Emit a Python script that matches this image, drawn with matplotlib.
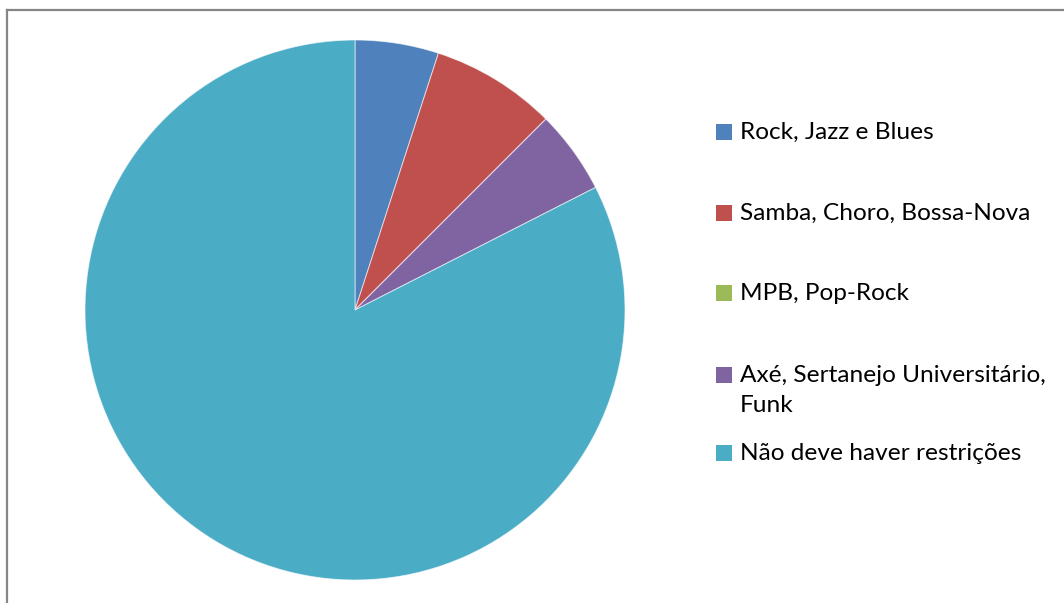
import matplotlib
matplotlib.use("Agg")
import matplotlib.pyplot as plt
from matplotlib.patches import Rectangle
from matplotlib.lines import Line2D

# Survey answers per music style
labels = [
    "Rock, Jazz e Blues",
    "Samba, Choro, Bossa-Nova",
    "MPB, Pop-Rock",
    "Axé, Sertanejo Universitário,\nFunk",
    "Não deve haver restrições",
]
answers = [2, 3, 0, 2, 33]
colors = ["#4F81BD", "#C0504D", "#9BBB59", "#8064A2", "#4BACC6"]

plt.rcParams["font.family"] = ["Lato", "DejaVu Sans"]

W, H = 1064, 603
fig = plt.figure(figsize=(W / 100, H / 100), dpi=100)

# pie centred at (355, 310) px with a 270 px radius
cx, cy, r = 355 / W, 1 - 310 / H, 270
ax = fig.add_axes([cx - r / W, cy - r / H, 2 * r / W, 2 * r / H])
wedges, _ = ax.pie(
    answers,
    colors=colors,
    startangle=90,
    counterclock=False,
    radius=1,
    wedgeprops=dict(edgecolor=(1, 1, 1, 0.6), linewidth=0.7),
)
ax.set_xlim(-1, 1)
ax.set_ylim(-1, 1)
ax.set_aspect("equal")
ax.axis("off")

# legend on the right, Excel style (key aligned with first line)
legend_y = [132, 213, 293, 375, 453]
for wedge, label, y in zip(wedges, labels, legend_y):
    fig.patches.append(Rectangle((716 / W, 1 - (y + 8) / H), 16 / W, 16 / H,
                                 facecolor=wedge.get_facecolor(), edgecolor="none",
                                 transform=fig.transFigure))
    fig.text(740 / W, 1 - (y - 10) / H, label, fontsize=17.6, color="black",
             va="top", ha="left", linespacing=1.5)

# chart frame: left and top edges
frame = dict(color="#868686", linewidth=1.6, transform=fig.transFigure)
fig.add_artist(Line2D([7 / W, 7 / W], [0, 1 - 10 / H], **frame))
fig.add_artist(Line2D([7 / W, 1], [1 - 10 / H, 1 - 10 / H], **frame))

fig.savefig("out.png", dpi=100)
